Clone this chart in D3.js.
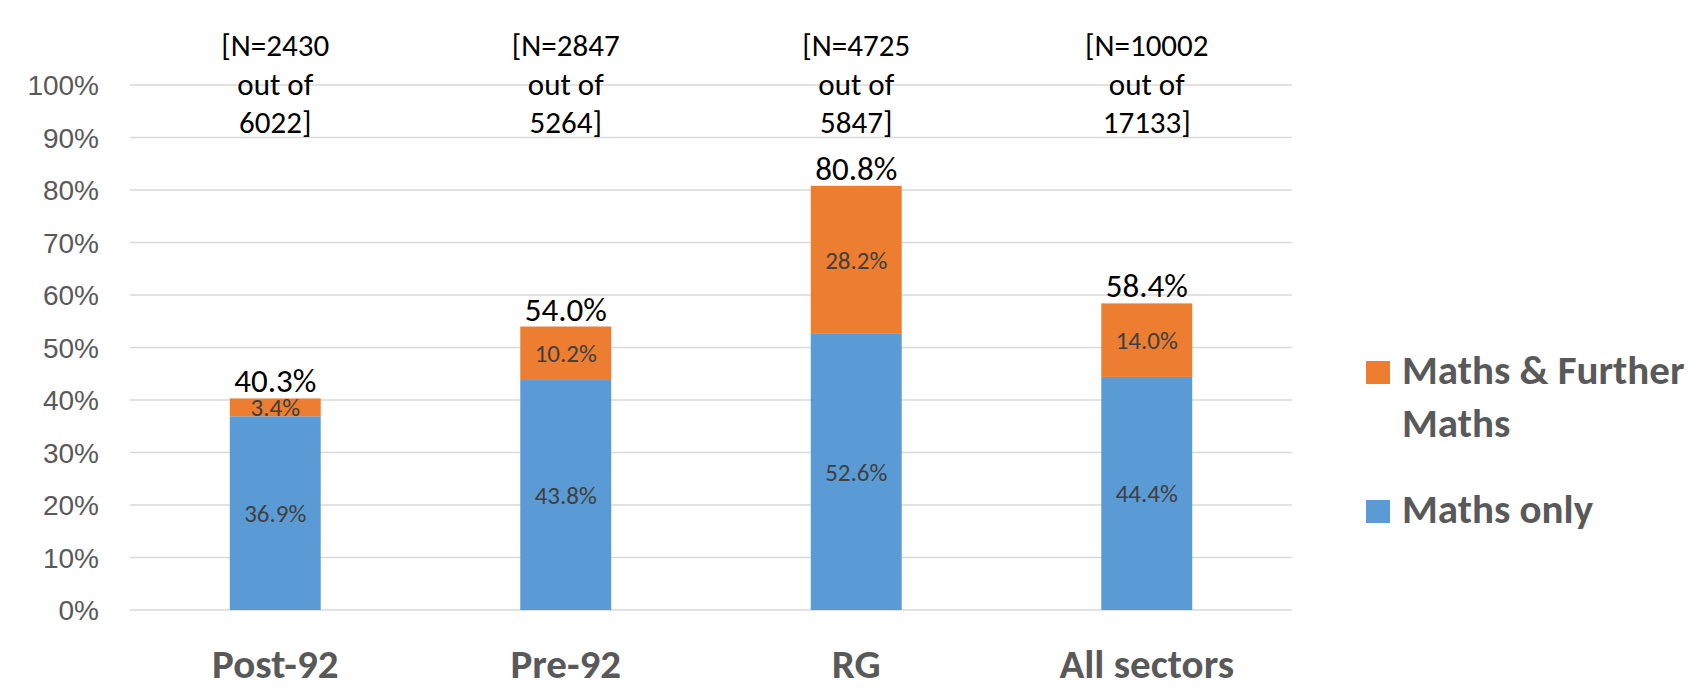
<!DOCTYPE html>
<html>
<head>
<meta charset="utf-8">
<script src="https://cdn.jsdelivr.net/npm/d3@7"></script>
<style>
  html, body { margin: 0; padding: 0; background: #fff; }
  svg { display: block; font-family: Carlito, Calibri, Lato, "Open Sans", sans-serif; }
</style>
</head>
<body>
<svg id="chart" width="1695" height="688"></svg>
<script>
// Share of students by sector taking A-level maths
const categories = ["Post-92", "Pre-92", "RG", "All sectors"];
const mathsOnly = [36.9, 43.8, 52.6, 44.4];
const mathsFurther = [3.4, 10.2, 28.2, 14.0];
const totals = [40.3, 54.0, 80.8, 58.4];
const sampleLabels = [
  ["[N=2430", "out of", "6022]"],
  ["[N=2847", "out of", "5264]"],
  ["[N=4725", "out of", "5847]"],
  ["[N=10002", "out of", "17133]"]
];
const tickValues = [0, 10, 20, 30, 40, 50, 60, 70, 80, 90, 100];
const seriesNames = ["Maths & Further Maths", "Maths only"];

const COLORS = { only: "#5B9BD5", further: "#ED7D31" };

const svg = d3.select("#chart");

const x = d3.scaleBand().domain(categories).range([130, 1292]).padding(0);
const y = d3.scaleLinear().domain([0, 100]).range([610, 85]);
const barW = x.bandwidth() * 0.313;
const cx = c => x(c) + x.bandwidth() / 2;

// gridlines
svg.append("g")
  .selectAll("line")
  .data(tickValues)
  .join("line")
  .attr("x1", 130).attr("x2", 1292)
  .attr("y1", d => y(d)).attr("y2", d => y(d))
  .attr("stroke", "#D9D9D9")
  .attr("stroke-width", 1.5);

// y axis labels
const yAxis = d3.axisLeft(y).tickValues(tickValues).tickFormat(d => d + "%").tickSize(0).tickPadding(0);
const ya = svg.append("g").attr("transform", "translate(99,0)").call(yAxis);
ya.select(".domain").remove();
ya.selectAll("text")
  .attr("fill", "#595959")
  .style("font-size", "28px")
  .style("font-family", null)
  .attr("dy", "0.35em");

// stacked bars
const rows = categories.map((c, i) => ({ c, only: mathsOnly[i], further: mathsFurther[i], total: totals[i] }));

svg.append("g").selectAll("rect")
  .data(rows).join("rect")
  .attr("x", d => cx(d.c) - barW / 2)
  .attr("width", barW)
  .attr("y", d => y(d.only))
  .attr("height", d => y(0) - y(d.only))
  .attr("fill", COLORS.only);

svg.append("g").selectAll("rect")
  .data(rows).join("rect")
  .attr("x", d => cx(d.c) - barW / 2)
  .attr("width", barW)
  .attr("y", d => y(d.only + d.further))
  .attr("height", d => y(d.only) - y(d.only + d.further))
  .attr("fill", COLORS.further);

// segment labels
svg.append("g").selectAll("text")
  .data(rows).join("text")
  .attr("x", d => cx(d.c))
  .attr("y", d => (y(0) + y(d.only)) / 2)
  .attr("dy", "0.35em")
  .attr("text-anchor", "middle")
  .attr("fill", "#404040")
  .style("font-size", "25px")
  .text(d => d.only.toFixed(1) + "%");

svg.append("g").selectAll("text")
  .data(rows).join("text")
  .attr("x", d => cx(d.c))
  .attr("y", d => (y(d.only) + y(d.only + d.further)) / 2)
  .attr("dy", "0.35em")
  .attr("text-anchor", "middle")
  .attr("fill", "#404040")
  .style("font-size", "25px")
  .text(d => d.further.toFixed(1) + "%");

// totals above bars
svg.append("g").selectAll("text")
  .data(rows).join("text")
  .attr("x", d => cx(d.c))
  .attr("y", d => y(d.total) - 6)
  .attr("text-anchor", "middle")
  .attr("fill", "#000")
  .style("font-size", "33px")
  .text(d => d.total.toFixed(1) + "%");

// sample size notes
const notes = svg.append("g").selectAll("text")
  .data(categories.map((c, i) => ({ c, lines: sampleLabels[i] })))
  .join("text")
  .attr("text-anchor", "middle")
  .attr("fill", "#000")
  .style("font-size", "31px");
notes.selectAll("tspan")
  .data(d => d.lines.map(l => ({ c: d.c, l })))
  .join("tspan")
  .attr("x", d => cx(d.c))
  .attr("y", (d, i) => 56 + i * 38.5)
  .text(d => d.l);

// category labels
svg.append("g").selectAll("text")
  .data(categories).join("text")
  .attr("x", d => cx(d))
  .attr("y", 678)
  .attr("text-anchor", "middle")
  .attr("fill", "#595959")
  .style("font-size", "41px")
  .style("font-weight", "bold")
  .text(d => d);

// legend
const legend = svg.append("g");
const legendItems = [
  { name: seriesNames[0], color: COLORS.further, lines: ["Maths & Further", "Maths"], top: 361 },
  { name: seriesNames[1], color: COLORS.only, lines: ["Maths only"], top: 500 }
];
legendItems.forEach(item => {
  legend.append("rect")
    .attr("x", 1366).attr("y", item.top)
    .attr("width", 24).attr("height", 23)
    .attr("fill", item.color);
  const t = legend.append("text")
    .attr("fill", "#595959")
    .style("font-size", "41px")
    .style("font-weight", "bold");
  item.lines.forEach((l, i) => {
    t.append("tspan").attr("x", 1402).attr("y", item.top + 23 + i * 53).text(l);
  });
});
</script>
</body>
</html>
